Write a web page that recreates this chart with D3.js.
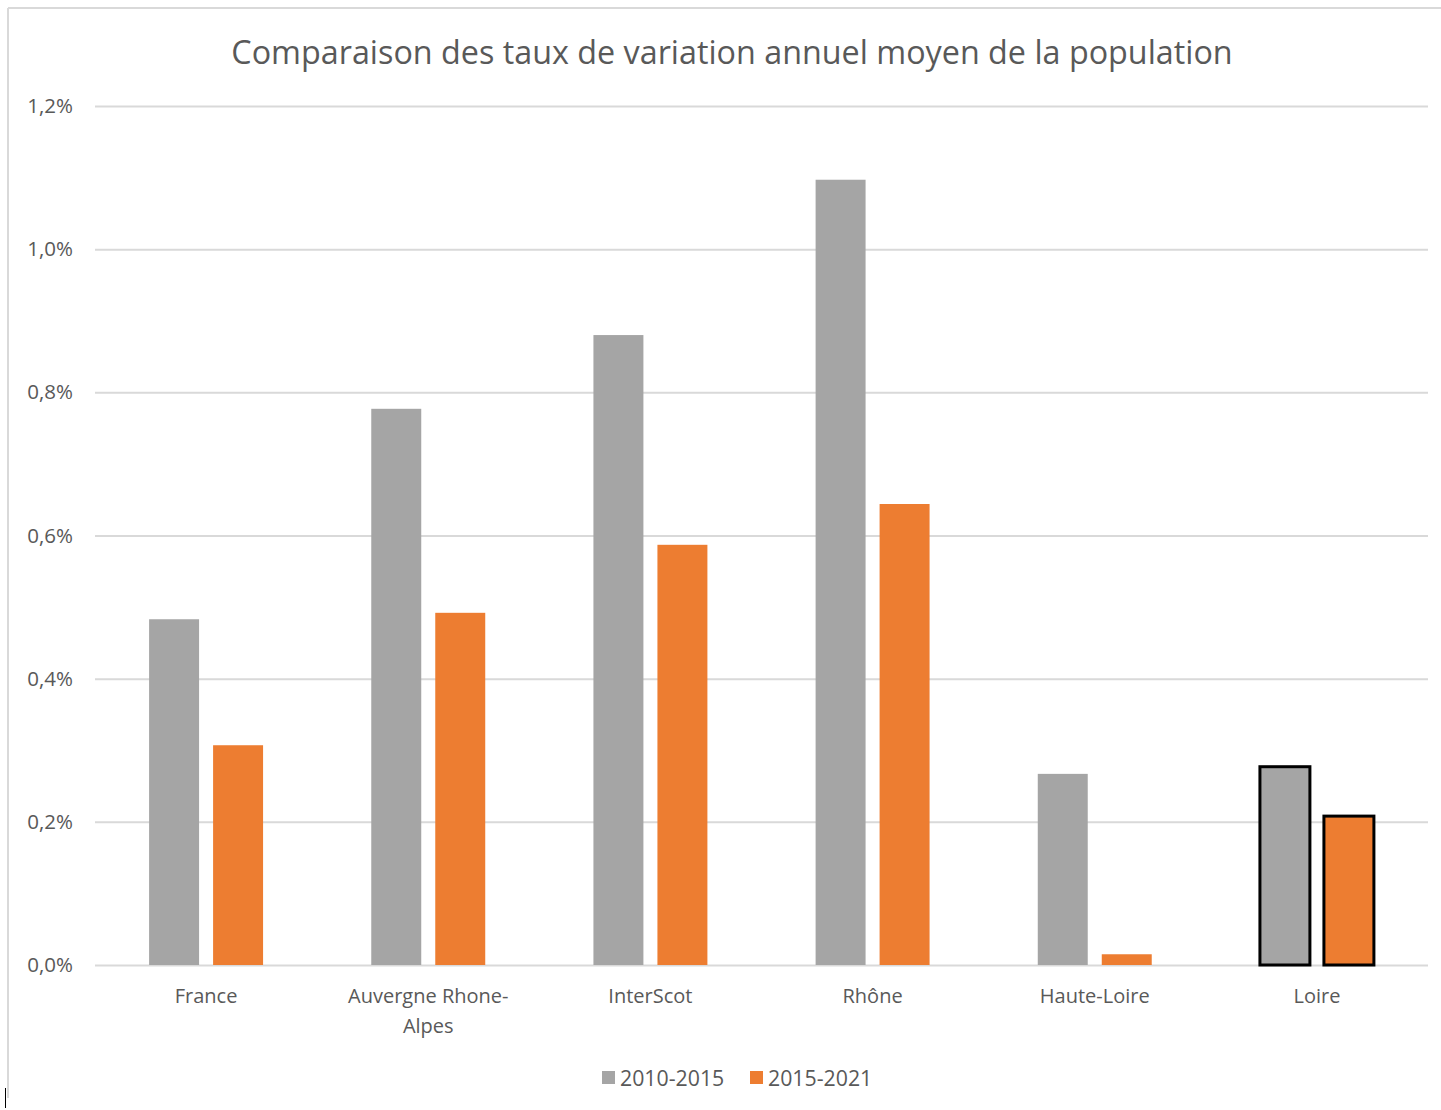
<!DOCTYPE html>
<html>
<head>
<meta charset="utf-8">
<script src="https://cdn.jsdelivr.net/npm/d3@7"></script>
<style>
  body { margin: 0; background: #fff; }
  text { font-family: "Open Sans", sans-serif; fill: #595959; }
</style>
</head>
<body>
<script>
// data
const categories = ['France', 'Auvergne Rhone-Alpes', 'InterScot', 'Rhône', 'Haute-Loire', 'Loire'];
const categoryLines = [['France'], ['Auvergne Rhone-', 'Alpes'], ['InterScot'], ['Rhône'], ['Haute-Loire'], ['Loire']];
const seriesNames = ['2010-2015', '2015-2021'];
const values2010 = [0.483, 0.777, 0.880, 1.097, 0.267, 0.277];
const values2015 = [0.307, 0.492, 0.587, 0.644, 0.015, 0.208];
const yTicks = [0, 0.2, 0.4, 0.6, 0.8, 1.0, 1.2];
const colors = ['#A5A5A5', '#ED7D31'];
const highlighted = ['Loire'];

const W = 1441, H = 1110;
const svg = d3.select(document.body).append('svg')
  .attr('width', W).attr('height', H);

// chart frame (top and left edges only visible)
svg.append('line').attr('x1', 8).attr('y1', 8).attr('x2', W).attr('y2', 8)
  .attr('stroke', '#D9D9D9').attr('stroke-width', 2);
svg.append('line').attr('x1', 8).attr('y1', 8).attr('x2', 8).attr('y2', 1098)
  .attr('stroke', '#D9D9D9').attr('stroke-width', 2);
svg.append('line').attr('x1', 5.5).attr('y1', 1088).attr('x2', 5.5).attr('y2', 1108)
  .attr('stroke', '#000').attr('stroke-width', 1);

const plotLeft = 95, plotRight = 1428, plotTop = 106, plotBottom = 965;

const y = d3.scaleLinear().domain([0, 1.2]).range([plotBottom, plotTop]);
const x0 = d3.scaleBand().domain(categories).range([plotLeft, plotRight])
  .paddingInner(0.487).paddingOuter(0.2435);
const x1 = d3.scaleBand().domain(seriesNames).range([0, x0.bandwidth()])
  .paddingInner(0.219).paddingOuter(0);

// title
svg.append('text').attr('x', 732).attr('y', 64).attr('text-anchor', 'middle')
  .style('font-size', '32.3px').text('Comparaison des taux de variation annuel moyen de la population');

// gridlines + y labels
const yAxis = d3.axisLeft(y).tickValues(yTicks).tickSize(-(plotRight - plotLeft)).tickPadding(22)
  .tickFormat(d => d3.format('.1f')(d).replace('.', ',') + '%');
const gy = svg.append('g').attr('transform', `translate(${plotLeft},0)`).call(yAxis);
gy.select('.domain').remove();
gy.selectAll('line').attr('stroke', '#D9D9D9').attr('stroke-width', 2);
gy.selectAll('text').style('font-size', '20.5px').attr('fill', '#595959')
  .style('font-family', '"Open Sans", sans-serif');

// bars
const rows = categories.map((c, i) => ({ cat: c, vals: [values2010[i], values2015[i]] }));
const groups = svg.append('g').selectAll('g').data(rows).join('g')
  .attr('transform', d => `translate(${x0(d.cat)},0)`);
groups.selectAll('rect').data(d => d.vals.map((v, j) => ({ cat: d.cat, s: seriesNames[j], v, j })))
  .join('rect')
  .attr('x', d => x1(d.s))
  .attr('y', d => y(d.v))
  .attr('width', x1.bandwidth())
  .attr('height', d => y(0) - y(d.v))
  .attr('fill', d => colors[d.j])
  .attr('stroke', d => highlighted.includes(d.cat) ? '#000' : 'none')
  .attr('stroke-width', 3);

// category labels
const catG = svg.append('g');
categories.forEach((c, i) => {
  const t = catG.append('text').attr('x', x0(c) + x0.bandwidth() / 2).attr('y', 1003)
    .attr('text-anchor', 'middle').style('font-size', '20px');
  categoryLines[i].forEach((line, k) => {
    t.append('tspan').attr('x', x0(c) + x0.bandwidth() / 2).attr('dy', k === 0 ? 0 : 30).text(line);
  });
});

// legend
const legendX = [602, 750];
seriesNames.forEach((s, j) => {
  svg.append('rect').attr('x', legendX[j]).attr('y', 1071).attr('width', 13).attr('height', 13)
    .attr('fill', colors[j]);
  svg.append('text').attr('x', legendX[j] + 18).attr('y', 1086).style('font-size', '21.3px').text(s);
});
</script>
</body>
</html>
